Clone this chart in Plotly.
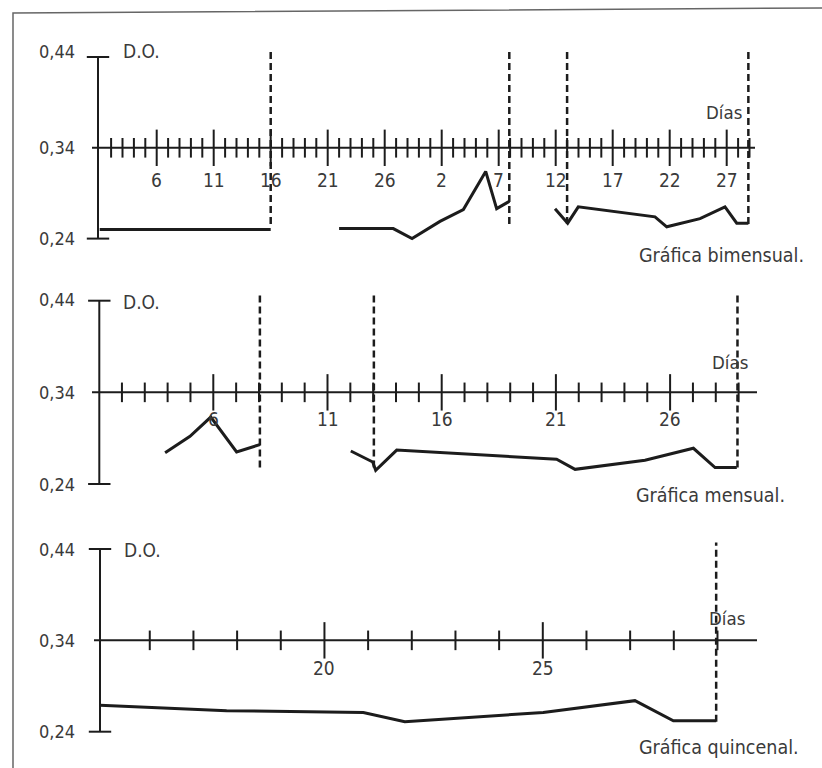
import plotly.graph_objects as go

W, H = 822, 768
FONT = "DejaVu Sans Condensed, Liberation Sans Narrow, sans-serif"
INK = "#1c1c1c"
TXT = "#3a3a3a"

# ---------------- data ----------------
# Gráfica bimensual (continuous day index over two months)
bim_x = [1, 16, None, 22, 26.75, 28.4, 30.85, 32.9, 34.86, 35.82, 36.93,
         None, 40.94, 42.05, 42.98, 49.71, 50.74, 53.66, 55.85, 56.88, 57.9]
bim_y = [0.250, 0.250, None, 0.251, 0.251, 0.240, 0.259, 0.272, 0.314, 0.273, 0.281,
         None, 0.273, 0.257, 0.275, 0.264, 0.253, 0.262, 0.275, 0.257, 0.257]
bim_major = [6, 11, 16, 21, 26, 31, 36, 41, 46, 51, 56]
bim_labels = ["6", "11", "16", "21", "26", "2", "7", "12", "17", "22", "27"]
bim_minor = [d for d in range(2, 59) if d not in bim_major]
bim_dash = [16, 36.93, 42, 57.9]

# Gráfica mensual
men_x = [3.89, 4.98, 5.89, 7.02, 8.04, None,
         12.02, 12.98, 13.11, 14.03, 21.03, 21.84, 24.9, 27.02, 27.97, 28.92]
men_y = [0.274, 0.292, 0.313, 0.275, 0.283, None,
         0.276, 0.264, 0.255, 0.277, 0.267, 0.256, 0.266, 0.279, 0.258, 0.258]
men_major = [6, 11, 16, 21, 26]
men_labels = ["6", "11", "16", "21", "26"]
men_minor = [d for d in range(2, 30) if d not in men_major]
men_dash = [8.04, 13.03, 28.95]

# Gráfica quincenal
qui_x = [14.86, 17.76, 20.89, 21.84, 25.01, 27.11, 27.99, 28.97]
qui_y = [0.269, 0.263, 0.261, 0.251, 0.261, 0.274, 0.252, 0.252]
qui_major = [20, 25]
qui_labels = ["20", "25"]
qui_minor = [d for d in range(16, 30) if d not in qui_major]
qui_dash = [28.97]

y_vals = [0.44, 0.34, 0.24]
y_text = ["0,44", "0,34", "0,24"]

# ---------------- panel geometry (pixel calibration) ----------------
panels = [
    dict(xs=bim_x, ys=bim_y, major=bim_major, labels=bim_labels, minor=bim_minor,
         dash=bim_dash, xref_val=1, xref_px=99.7, xppu=11.4, y44_px=57, yppu=908,
         origin_px=98, axis_px=(92, 755), dash_y=(0.256, 0.446), tick_lab_px=180,
         do_px=(121, 51), y44_lab_px=51, dias_px=(744, 112),
         title="Gráfica bimensual.", title_px=(806, 255)),
    dict(xs=men_x, ys=men_y, major=men_major, labels=men_labels, minor=men_minor,
         dash=men_dash, xref_val=1, xref_px=99.1, xppu=22.84, y44_px=300.7, yppu=916.5,
         origin_px=99.3, axis_px=(92, 757), dash_y=(0.258, 0.446), tick_lab_px=419,
         do_px=(121, 302), y44_lab_px=299, dias_px=(750, 362),
         title="Gráfica mensual.", title_px=(787, 495)),
    dict(xs=qui_x, ys=qui_y, major=qui_major, labels=qui_labels, minor=qui_minor,
         dash=qui_dash, xref_val=15, xref_px=106.1, xppu=43.67, y44_px=549, yppu=913.5,
         origin_px=100, axis_px=(94, 757), dash_y=(0.251, 0.447), tick_lab_px=668,
         do_px=(122, 550), y44_lab_px=549, dias_px=(747, 618),
         title="Gráfica quincenal.", title_px=(801, 747)),
]

fig = go.Figure()
shapes = []
annotations = []
layout_axes = {}

for i, p in enumerate(panels):
    k = "" if i == 0 else str(i + 1)
    xa, ya = "x" + k, "y" + k
    x_lo = p["xref_val"] - p["xref_px"] / p["xppu"]
    x_hi = x_lo + W / p["xppu"]
    y_hi = 0.44 + p["y44_px"] / p["yppu"]
    y_lo = y_hi - H / p["yppu"]
    layout_axes["xaxis" + k] = dict(domain=[0, 1], range=[x_lo, x_hi], visible=False,
                                    anchor=ya, fixedrange=True)
    layout_axes["yaxis" + k] = dict(domain=[0, 1], range=[y_lo, y_hi], visible=False,
                                    anchor=xa, fixedrange=True)

    def px2x(px, p=p):
        return p["xref_val"] + (px - p["xref_px"]) / p["xppu"]

    def py2y(py, y_hi=y_hi, p=p):
        return y_hi - py / p["yppu"]

    x0 = px2x(p["origin_px"])
    # vertical D.O. axis
    shapes.append(dict(type="line", xref=xa, yref=ya, x0=x0, x1=x0, y0=0.24, y1=0.44,
                       line=dict(color=INK, width=2)))
    # horizontal days axis at 0.34
    shapes.append(dict(type="line", xref=xa, yref=ya, x0=px2x(p["axis_px"][0]),
                       x1=px2x(p["axis_px"][1]), y0=0.34, y1=0.34,
                       line=dict(color=INK, width=2)))
    # dashed separators
    for d in p["dash"]:
        shapes.append(dict(type="line", xref=xa, yref=ya, x0=d, x1=d,
                           y0=p["dash_y"][0], y1=p["dash_y"][1],
                           line=dict(color=INK, width=2.5, dash="7px,4px")))
    # y-axis end ticks
    fig.add_trace(go.Scatter(x=[x0, x0], y=[0.44, 0.24], mode="markers", xaxis=xa, yaxis=ya,
                             marker=dict(symbol="line-ew", size=16,
                                         line=dict(color=INK, width=2)),
                             hoverinfo="skip", showlegend=False))
    # minor and major day ticks
    fig.add_trace(go.Scatter(x=p["minor"], y=[0.34] * len(p["minor"]), mode="markers",
                             xaxis=xa, yaxis=ya,
                             marker=dict(symbol="line-ns", size=14,
                                         line=dict(color=INK, width=2)),
                             hoverinfo="skip", showlegend=False))
    fig.add_trace(go.Scatter(x=p["major"], y=[0.34] * len(p["major"]), mode="markers",
                             xaxis=xa, yaxis=ya,
                             marker=dict(symbol="line-ns", size=26,
                                         line=dict(color=INK, width=2)),
                             hoverinfo="skip", showlegend=False))
    # data line
    fig.add_trace(go.Scatter(x=p["xs"], y=p["ys"], mode="lines", xaxis=xa, yaxis=ya,
                             line=dict(color=INK, width=3), connectgaps=False,
                             hoverinfo="skip", showlegend=False))
    # tick labels
    for d, lab in zip(p["major"], p["labels"]):
        annotations.append(dict(x=d, y=py2y(p["tick_lab_px"]), xref=xa, yref=ya, text=lab,
                                showarrow=False, xanchor="center", yanchor="middle",
                                font=dict(size=19, color=TXT, family=FONT)))
    # y labels
    for v, t in zip(y_vals, y_text):
        yy = py2y(p["y44_lab_px"]) if v == 0.44 else v
        annotations.append(dict(x=px2x(77), y=yy, xref=xa, yref=ya, text=t,
                                showarrow=False, xanchor="right", yanchor="middle",
                                font=dict(size=18, color=TXT, family=FONT)))
    annotations.append(dict(x=px2x(p["do_px"][0]), y=py2y(p["do_px"][1]), xref=xa, yref=ya,
                            text="D.O.", showarrow=False, xanchor="left", yanchor="middle",
                            font=dict(size=19, color=TXT, family=FONT)))
    annotations.append(dict(x=px2x(p["dias_px"][0]), y=py2y(p["dias_px"][1]), xref=xa, yref=ya,
                            text="Días", showarrow=False, xanchor="right", yanchor="middle",
                            font=dict(size=18.5, color=TXT, family=FONT)))
    annotations.append(dict(x=px2x(p["title_px"][0]), y=py2y(p["title_px"][1]), xref=xa,
                            yref=ya, text=p["title"], showarrow=False, xanchor="right",
                            yanchor="middle", font=dict(size=19.5, color=TXT, family=FONT)))

# outer frame (scanned box edge)
shapes.append(dict(type="path", xref="paper", yref="paper",
                   path="M %f,%f L %f,%f L %f,%f" % (13 / W, 0.0, 13 / W, 1 - 13 / H,
                                                     1.0, 1 - 8 / H),
                   line=dict(color="#666666", width=1.5)))

fig.update_layout(width=W, height=H, margin=dict(l=0, r=0, t=0, b=0),
                  paper_bgcolor="white", plot_bgcolor="rgba(0,0,0,0)",
                  shapes=shapes, annotations=annotations, showlegend=False,
                  **layout_axes)
fig.write_html("out.html", config={"displayModeBar": False},
               post_script="document.body.style.margin='0';"
                           "document.body.style.overflow='hidden';")
